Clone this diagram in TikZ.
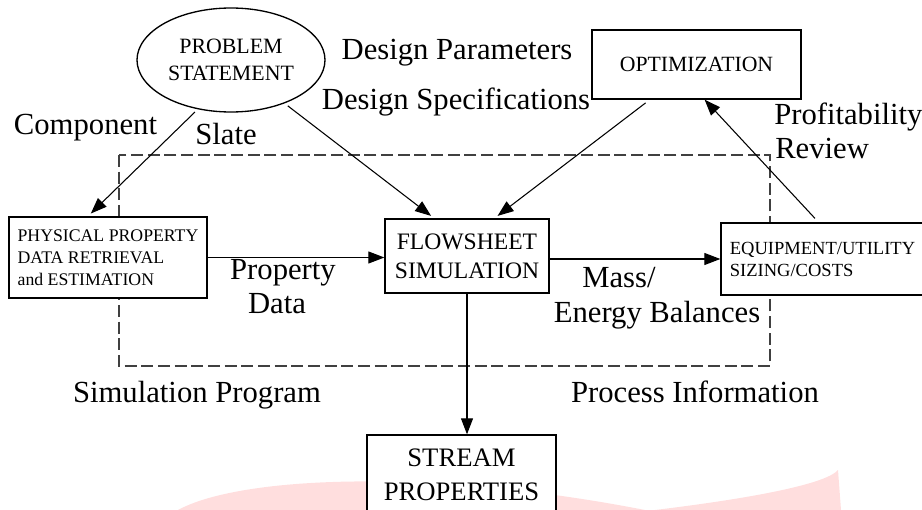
\documentclass[tikz,border=0pt]{standalone}
\usepackage{fontspec}
\setmainfont{Liberation Serif}
\usetikzlibrary{positioning, shapes.geometric, arrows.meta}

\begin{document}
\begin{tikzpicture}[
            x=0.75pt, y=-0.75pt,
            block/.style={draw, fill=white, line width=1pt, inner sep=0pt},
            flowarrow/.style={-{Triangle[length=12pt, width=9pt]}, line width=0.8pt},
            tag/.style={font=\fontsize{23}{27}\selectfont, inner sep=0pt, anchor=base}
        ]
        \useasboundingbox (0,0) rectangle (922,510);
        % Faint watermark behind the chart
        \fill[red!13] (178,510) .. controls (240,476) and (430,468) .. (645,510) -- cycle;
        \fill[red!13] (655,510) .. controls (770,496) and (828,482) .. (838,470) -- (841,510) -- cycle;

        % Simulation program boundary
        \draw[dash pattern=on 9pt off 3.5pt, line width=0.8pt, black!75] (119,155) rectangle (770,366);

        % Blocks
        \node[block, ellipse, minimum width=141pt, minimum height=78pt, align=center,
            font=\fontsize{16.4}{20.25}\selectfont] (problem) at (231,60) {PROBLEM\\STATEMENT};
        \node[block, minimum width=156.75pt, minimum height=51.75pt,
            font=\fontsize{16.3}{20}\selectfont] (optim) at (696.5,64.5) {OPTIMIZATION};
        \node[block, minimum width=148.5pt, minimum height=60.75pt, align=left,
            font=\fontsize{13.3}{16.5}\selectfont] (physprop) at (108,257.5) {PHYSICAL PROPERTY\\DATA RETRIEVAL\\and ESTIMATION};
        \node[block, minimum width=123pt, minimum height=55.5pt, align=center,
            font=\fontsize{17.7}{21.75}\selectfont] (flowsheet) at (467,256) {FLOWSHEET\\SIMULATION};
        \node[block, minimum width=152.25pt, minimum height=54pt, align=left,
            font=\fontsize{13.9}{16.5}\selectfont] (equip) at (822.5,259) {EQUIPMENT/UTILITY\\SIZING/COSTS};
        \node[block, minimum width=141.75pt, minimum height=60pt, align=center,
            font=\fontsize{20}{25.5}\selectfont] (stream) at (461.5,475) {STREAM\\PROPERTIES};

        % Labels
        \node[tag] (designpar) at (457,60) {Design Parameters};
        \node[tag] (designspec) at (456,110) {Design Specifications};
        \node[tag] (component) at (85.5,135) {Component};
        \node[tag] (slate) at (226,145) {Slate};
        \node[tag, anchor=base west] (profit) at (774,125) {Profitability};
        \node[tag, anchor=base west] (review) at (775,159) {Review};
        \node[tag] (property) at (283,279) {Property};
        \node[tag] (data) at (277,313) {Data};
        \node[tag] (mass) at (619,287) {Mass/};
        \node[tag] (energy) at (657,322) {Energy Balances};
        \node[tag] (simprog) at (197,402) {Simulation Program};
        \node[tag] (procinfo) at (695,402) {Process Information};

        % Connectors
        \draw[flowarrow, shorten <=3pt, shorten >=3pt] (problem.236) -- (physprop.116);
        \draw[flowarrow, shorten <=3pt, shorten >=3pt] (problem.321) -- (flowsheet.131);
        \draw[flowarrow, shorten <=4pt, shorten >=3pt] (optim.217) -- (flowsheet.54);
        \draw[flowarrow, shorten <=4pt] (equip.96) -- (optim.283);
        \draw[flowarrow] (physprop.east) -- (physprop.east -| flowsheet.west);
        \draw[flowarrow] (equip.west -| flowsheet.east) -- (equip.west);
        \draw[flowarrow] (flowsheet.south) -- (flowsheet.south |- stream.north);
    \end{tikzpicture}
\end{document}
